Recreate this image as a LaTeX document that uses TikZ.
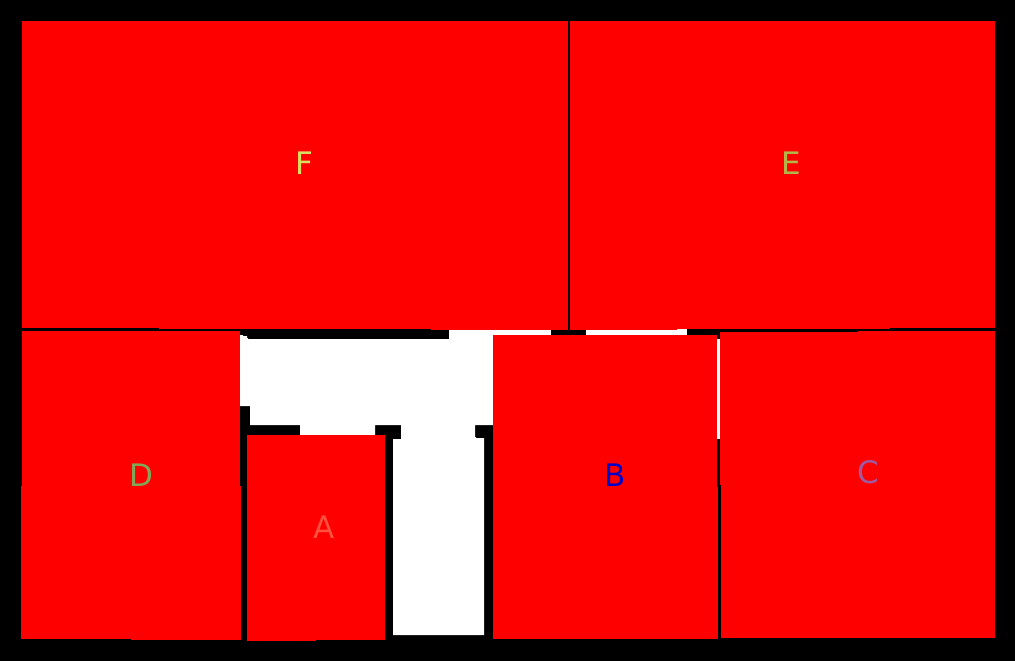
\documentclass[tikz,border=0pt]{standalone}
\usepackage{color}
\usepackage{tikz}
\usepackage{fontspec}
\setsansfont{DejaVu Sans}
\definecolor{labelA}{RGB}{255,80,64}
\definecolor{labelB}{RGB}{0,0,200}
\definecolor{labelC}{RGB}{160,90,160}
\definecolor{labelD}{RGB}{128,168,88}
\definecolor{labelE}{RGB}{176,184,72}
\definecolor{labelF}{RGB}{216,224,96}
\tikzset{room/.style={fill=red},
  roomlabel/.style={font=\sffamily\fontsize{31}{31}\selectfont,inner sep=0pt}}
\begin{document}
\begin{tikzpicture}[x=1pt,y=-1pt]
\useasboundingbox (0,0) rectangle (1015,661);
\fill [black] (0,0) rectangle (1015,661);
% open floor
\fill [white] (240,335) -- (243,335) -- (243,336) -- (247,336) -- (247,338) -- (248,338) -- (248,339) -- (449,339) -- (449,330) -- (493,330) -- (493,425) -- (475,425) -- (475,437) -- (476,437) -- (476,438) -- (484,438) -- (484,635) -- (393,635) -- (393,439) -- (401,439) -- (401,425) -- (375,425) -- (375,435) -- (300,435) -- (300,425) -- (250,425) -- (250,406) -- (240,406) -- cycle;
\fill [white] (493,330) rectangle (551,335);
\fill [white] (586,330) rectangle (677,335);
\fill [white] (677,329) rectangle (687,335);
\fill [white] (717,339) rectangle (720,439);
% rooms
\fill [room] (22,21) rectangle (568,328);
\fill [room] (159,328) rectangle (568,329);
\fill [room] (431,329) rectangle (568,330);
\fill [room] (570,21) rectangle (995,328);
\fill [room] (570,328) rectangle (889,329);
\fill [room] (570,329) rectangle (677,330);
\fill [room] (22,331) rectangle (240,486);
\fill [room] (21,486) rectangle (241,639);
\fill [room] (131,639) rectangle (241,640);
\fill [room] (247,435) rectangle (385,640);
\fill [room] (247,640) rectangle (316,641);
\fill [room] (493,335) rectangle (717,487);
\fill [room] (493,487) rectangle (718,639);
\fill [room] (720,332) rectangle (995,485);
\fill [room] (858,331) rectangle (995,332);
\fill [room] (721,485) rectangle (995,638);
% labels
\node [roomlabel,text=labelF] (nameF) at (304.5,163) {F};
\node [roomlabel,text=labelE] (nameE) at (791,163) {E};
\node [roomlabel,text=labelD] (nameD) at (141,475) {D};
\node [roomlabel,text=labelA] (nameA) at (324,527) {A};
\node [roomlabel,text=labelB] (nameB) at (615,475) {B};
\node [roomlabel,text=labelC] (nameC) at (868,472) {C};
\end{tikzpicture}
\end{document}
